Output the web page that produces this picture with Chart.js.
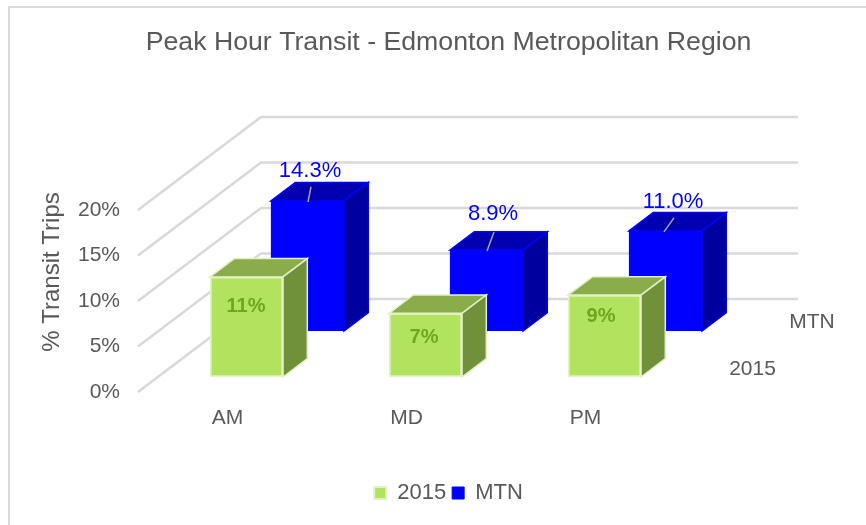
<!DOCTYPE html>
<html>
<head>
<meta charset="utf-8">
<title>Peak Hour Transit</title>
<script src="https://cdn.jsdelivr.net/npm/chart.js@4"></script>
<style>
    html, body { margin: 0; padding: 0; background: #fff; overflow: hidden; }
    #wrap { position: relative; width: 866px; height: 525px; }
    #frame { position: absolute; left: 8px; top: 6px; width: 900px; height: 560px; border: 2px solid #d9d9d9; box-sizing: border-box; }
    canvas { position: absolute; left: 0; top: 0; }
</style>
</head>
<body>
<div id="wrap">
    <div id="frame"></div>
    <canvas id="chart" width="866" height="525"></canvas>
</div>
<script>
// ===== DATA =====
const categories = ['AM', 'MD', 'PM'];
const seriesNames = ['2015', 'MTN'];
const values2015 = [11, 7, 9];
const valuesMtn = [14.3, 8.9, 11.0];

// ===== 3D LOOK =====
const TEXT = '#595959';
const FLOOR_DX = 123, FLOOR_DY = -93;      // depth of the side walls
const BAR_DX = 24.3, BAR_DY = -18.3;       // depth of one box
const looks = [
    { shift: [19, -15], front: '#b2e35f', top: '#8bac4a', side: '#70903a', edge: '#e2f1c6' },
    { shift: [80, -61], front: '#0000ff', top: '#0000b0', side: '#00009e', edge: '#0000ff' }
];
const label2015Shift = [[-0.5, 30], [-1.5, 24], [-3.5, 21]];
const mtnLabelShift = [[2.5, -30], [6.5, -36], [7.5, -29]];
const mtnLeader = [[0.5, 3.5, -14], [0.5, 7.5, -18], [-1.5, 8.5, -13]];

function poly(ctx, pts, fill, edge) {
    ctx.beginPath();
    pts.forEach((p, i) => i ? ctx.lineTo(p[0], p[1]) : ctx.moveTo(p[0], p[1]));
    ctx.closePath();
    ctx.fillStyle = fill;
    ctx.fill();
    ctx.strokeStyle = edge;
    ctx.lineWidth = 1.5;
    ctx.stroke();
}

const wallsPlugin = {
    id: 'walls',
    beforeDatasetsDraw(chart) {
        const { ctx, scales: { x, y } } = chart;
        ctx.save();
        ctx.strokeStyle = '#d9d9d9';
        ctx.lineWidth = 2.5;
        y.ticks.forEach(t => {
            const py = y.getPixelForValue(t.value);
            ctx.beginPath();
            ctx.moveTo(x.left, py);
            ctx.lineTo(x.left + FLOOR_DX, py + FLOOR_DY);
            ctx.lineTo(x.right + FLOOR_DX, py + FLOOR_DY);
            ctx.stroke();
        });
        ctx.restore();
    }
};

// moves each series back in depth and adds top and side faces, the library draws the front face
const boxesPlugin = {
    id: 'boxes',
    beforeDatasetDraw(chart, args) {
        const { ctx } = chart;
        const look = looks[args.index];
        ctx.save();
        ctx.translate(look.shift[0], look.shift[1]);
        args.meta.data.forEach(bar => {
            const { x, y, base, width } = bar.getProps(['x', 'y', 'base', 'width']);
            const l = x - width / 2, r = x + width / 2;
            poly(ctx, [[l, y], [l + BAR_DX, y + BAR_DY], [r + BAR_DX, y + BAR_DY], [r, y]], look.top, look.edge);
            poly(ctx, [[r, y], [r + BAR_DX, y + BAR_DY], [r + BAR_DX, base + BAR_DY], [r, base]], look.side, look.edge);
        });
    },
    afterDatasetDraw(chart) {
        chart.ctx.restore();
    }
};

const labelsPlugin = {
    id: 'valueLabels',
    afterDatasetsDraw(chart) {
        const { ctx, scales: { x, y } } = chart;
        ctx.save();
        ctx.textAlign = 'center';
        ctx.textBaseline = 'middle';

        // labels inside the front boxes
        ctx.font = 'bold 20px "Liberation Sans"';
        ctx.fillStyle = '#70a51e';
        chart.getDatasetMeta(0).data.forEach((bar, i) => {
            ctx.fillText(values2015[i].toFixed(0) + '%',
                bar.x + looks[0].shift[0] + label2015Shift[i][0],
                bar.y + looks[0].shift[1] + label2015Shift[i][1]);
        });

        // labels above the back boxes, with their leader lines
        ctx.font = '22px "Liberation Sans"';
        chart.getDatasetMeta(1).data.forEach((bar, i) => {
            const bx = bar.x + looks[1].shift[0], by = bar.y + looks[1].shift[1];
            ctx.strokeStyle = '#a6a6a6';
            ctx.lineWidth = 1.5;
            ctx.beginPath();
            ctx.moveTo(bx + mtnLeader[i][0], by + 1);
            ctx.lineTo(bx + mtnLeader[i][1], by + mtnLeader[i][2]);
            ctx.stroke();
            ctx.fillStyle = '#0000ff';
            ctx.fillText(valuesMtn[i].toFixed(1) + '%', bx + mtnLabelShift[i][0], by + mtnLabelShift[i][1]);
        });

        // depth axis names
        ctx.font = '21px "Liberation Sans"';
        ctx.fillStyle = TEXT;
        ctx.fillText(seriesNames[1], x.right + 137, y.bottom - 70);
        ctx.fillText(seriesNames[0], x.right + 77.5, y.bottom - 23);

        // value axis title sits higher than the axis middle
        ctx.font = '24px "Liberation Sans"';
        ctx.translate(52, y.top + 62);
        ctx.rotate(-Math.PI / 2);
        ctx.fillText('% Transit Trips', 0, 0);
        ctx.restore();
    }
};

// ===== CHART =====
Chart.defaults.font.family = '"Liberation Sans", Arial, sans-serif';
Chart.defaults.color = TEXT;

new Chart(document.getElementById('chart'), {
    type: 'bar',
    data: {
        labels: categories,
        datasets: [{
            label: seriesNames[0],
            data: values2015,
            backgroundColor: looks[0].front,
            borderColor: looks[0].edge,
            borderWidth: 2,
            borderSkipped: false,
            barThickness: 73,
            grouped: false,
            clip: false
        }, {
            label: seriesNames[1],
            data: valuesMtn,
            backgroundColor: looks[1].front,
            borderColor: looks[1].edge,
            borderWidth: 1,
            borderSkipped: false,
            barThickness: 73,
            grouped: false,
            clip: false
        }]
    },
    options: {
        responsive: false,
        animation: false,
        layout: { padding: { left: 31, right: 0, top: 0, bottom: 11 } },
        plugins: {
            title: {
                display: true,
                text: 'Peak Hour Transit - Edmonton Metropolitan Region',
                color: TEXT,
                font: { size: 26.7, weight: 'normal' },
                padding: { top: 27, bottom: 151 }
            },
            legend: {
                position: 'bottom',
                labels: { boxWidth: 12, boxHeight: 12, padding: 6, font: { size: 22 }, color: TEXT }
            },
            tooltip: { enabled: false }
        },
        scales: {
            x: {
                grid: { display: false },
                border: { display: false },
                ticks: { font: { size: 21 }, padding: 6, color: TEXT },
                afterFit(scale) { scale.height = 84; }
            },
            y: {
                min: 0,
                max: 20,
                grid: { display: false },
                border: { display: false },
                ticks: { stepSize: 5, font: { size: 21 }, padding: 10, color: TEXT, callback: v => v + '%' },
                afterFit(scale) { scale.width = 107; }
            },
            depth: {
                position: 'right',
                min: 0,
                max: 1,
                grid: { display: false },
                border: { display: false },
                ticks: { display: false },
                afterFit(scale) { scale.width = 191; }
            }
        }
    },
    plugins: [wallsPlugin, boxesPlugin, labelsPlugin]
});
</script>
</body>
</html>
